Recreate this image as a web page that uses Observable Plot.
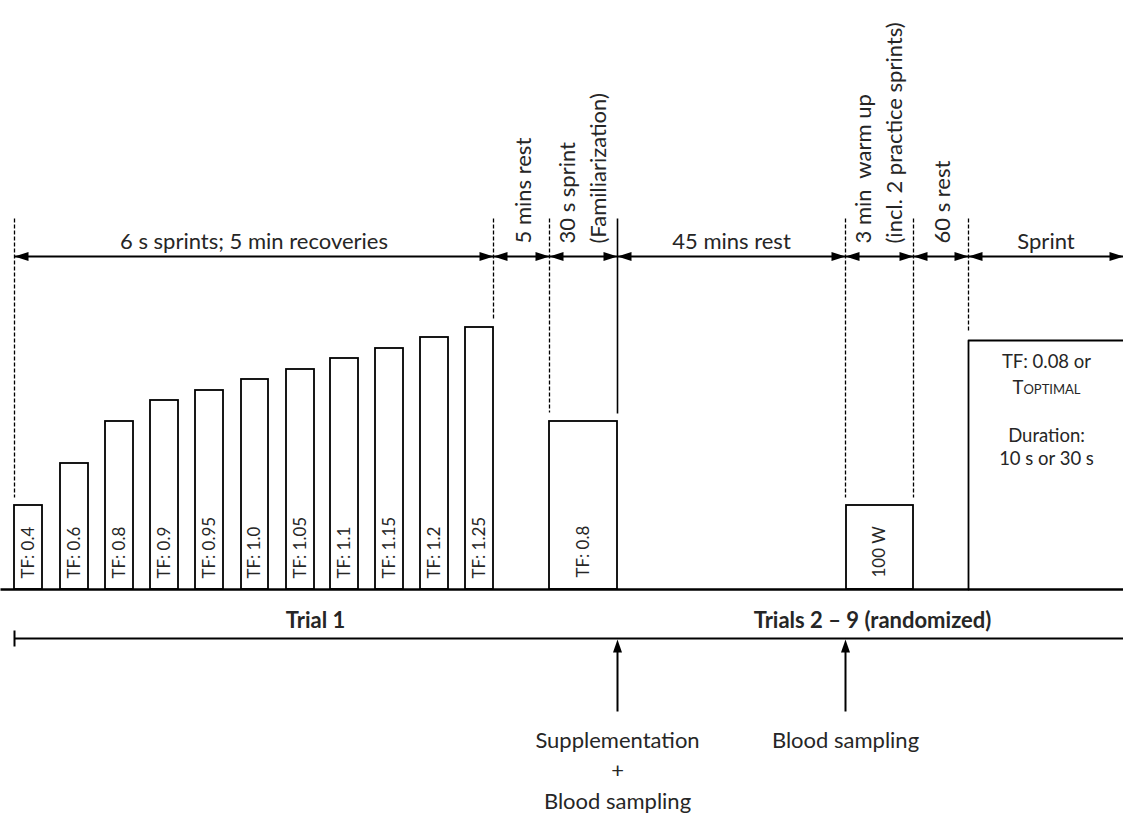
<!DOCTYPE html>
<html><head><meta charset="utf-8">
<script src="https://cdn.jsdelivr.net/npm/d3@7"></script>
<script src="https://cdn.jsdelivr.net/npm/@observablehq/plot@0.6"></script>
<style>
html,body{margin:0;padding:0;background:#fff;}
svg{display:block;}
</style>
</head><body><div id="chart"></div>
<script>
// ---- Data (schematic units: x = timeline position, level = height above baseline) ----
const tfLabels = ["TF: 0.4","TF: 0.6","TF: 0.8","TF: 0.9","TF: 0.95","TF: 1.0","TF: 1.05","TF: 1.1","TF: 1.15","TF: 1.2","TF: 1.25"];
const tfLevels = [84,126,168,189,199,210,220,231,241,252,262];
const tfStart  = [14,60,105,150,195,241,286,330,375,420,465];
const tfEnd    = [42,88,133,178,223,268,314,358,403,448,493];

const phaseBounds = [14,493,549,617,845,913,968,1123];
const phaseLabels = ["6 s sprints; 5 min recoveries","5 mins rest","30 s sprint\n(Familiarization)","45 mins rest","3 min  warm up\n(incl. 2 practice sprints)","60 s rest","Sprint"];

const markerX      = [14,493,549,617,845,913,968];
const markerBottom = [92,269,177,176,92,92,259];
const markerKind   = ["dashed","dashed","dashed","solid","dashed","dashed","dashed"];

const blockLabels = ["TF: 0.8","100 W"];
const blockStart  = [549,846];
const blockEnd    = [617,913];
const blockLevels = [168,84];

const sprintStart = 968;
const sprintLevel = 249;
const sprintLines = ["TF: 0.08 or","Toptimal","Duration:","10 s or 30 s"];
const sprintLineLevels = [222,196,148,125];

const trialLabels  = ["Trial 1","Trials 2 – 9 (randomized)"];
const trialCenters = [315,872];

const eventX      = [617,845];
const eventLabels = ["Supplementation\n+\nBlood sampling","Blood sampling"];

// ---- Layout constants ----
const W = 1123, H = 817;
const arrowLevel = 333;      // level of the phase arrows
const markerTop = 371;
const trialLevel = -49;
const FONT = "Lato, 'Open Sans', sans-serif";
const INK = "#262626";

// arrowhead symbols (tip at the point)
const headRight = {draw(c){c.moveTo(0,0);c.lineTo(-14,-4.5);c.lineTo(-14,4.5);c.closePath();}};
const headLeft  = {draw(c){c.moveTo(0,0);c.lineTo(14,-4.5);c.lineTo(14,4.5);c.closePath();}};
const headUp    = {draw(c){c.moveTo(0,0);c.lineTo(-4.5,13);c.lineTo(4.5,13);c.closePath();}};

const bars = tfLabels.map((label,i)=>({label, x1:tfStart[i], x2:tfEnd[i], level:tfLevels[i]}));
const blocks = blockLabels.map((label,i)=>({label, x1:blockStart[i], x2:blockEnd[i], level:blockLevels[i]}));
const phases = phaseLabels.map((label,i)=>({label, x1:phaseBounds[i], x2:phaseBounds[i+1], mid:(phaseBounds[i]+phaseBounds[i+1])/2}));
const horizPhases = phases.filter(p => p.x2 - p.x1 > 100);
const vertPhases = phases.filter(p => p.x2 - p.x1 <= 100);
const markers = markerX.map((x,i)=>({x, bottom:markerBottom[i], kind:markerKind[i]}));
const sprintText = sprintLines.map((t,i)=>({t, level:sprintLineLevels[i]}));
const trials = trialLabels.map((t,i)=>({t, x:trialCenters[i]}));
const events = eventX.map((x,i)=>({x, label:eventLabels[i]}));

const chart = Plot.plot({
  width: W, height: H,
  margin: 0,
  x: {domain:[0,W], range:[0,W], axis:null},
  y: {domain:[-228,589], range:[H,0], axis:null},
  style: {fontFamily: FONT, background:"#fff", color: INK},
  marks: [
    // vertical boundary markers
    Plot.link(markers.filter(m=>m.kind==="dashed"), {x1:"x", x2:"x", y1:markerTop, y2:"bottom", stroke:"#000", strokeWidth:1.3, strokeDasharray:"4,2"}),
    Plot.link(markers.filter(m=>m.kind==="solid"), {x1:"x", x2:"x", y1:markerTop, y2:"bottom", stroke:"#000", strokeWidth:1.6}),
    // phase arrows
    Plot.link(phases, {x1:"x1", x2:"x2", y1:arrowLevel, y2:arrowLevel, stroke:"#000", strokeWidth:2}),
    Plot.dot(phases, {x:"x1", y:arrowLevel, symbol:headLeft, fill:"#000", stroke:null}),
    Plot.dot(phases, {x:"x2", y:arrowLevel, symbol:headRight, fill:"#000", stroke:null}),
    Plot.text(horizPhases, {x:"mid", y:341, text:"label", fontSize:22, lineAnchor:"bottom", fill:INK}),
    Plot.text(vertPhases.filter(p=>!p.label.includes("\n")), {x:d=>d.x2 - 19, y:346, text:"label", rotate:-90, textAnchor:"start", lineAnchor:"bottom", fontSize:22, fill:INK}),
    Plot.text(vertPhases.filter(p=>p.label.includes("\n")), {x:d=>d.x2 - 12, y:346, text:"label", rotate:-90, textAnchor:"start", lineAnchor:"bottom", lineHeight:1.39, fontSize:22, fill:INK}),
    // TF bars
    Plot.rect(bars, {x1:"x1", x2:"x2", y1:0, y2:"level", fill:"#fff", stroke:"#000", strokeWidth:1.8}),
    Plot.text(bars, {x:d=>(d.x1+d.x2)/2, y:11, text:"label", rotate:-90, textAnchor:"start", lineAnchor:"middle", fontSize:17, fill:INK}),
    // familiarization & warm-up blocks
    Plot.rect(blocks, {x1:"x1", x2:"x2", y1:0, y2:"level", fill:"#fff", stroke:"#000", strokeWidth:1.8}),
    Plot.text(blocks, {x:d=>(d.x1+d.x2)/2, y:12, text:"label", rotate:-90, textAnchor:"start", lineAnchor:"middle", fontSize:17, fill:INK}),
    // sprint block (open to the right)
    Plot.line([{x:sprintStart,l:0},{x:sprintStart,l:sprintLevel},{x:W+5,l:sprintLevel}], {x:"x", y:"l", stroke:"#000", strokeWidth:1.8}),
    Plot.text(sprintText.filter(d=>d.t!=="Toptimal"), {x:1046, y:"level", text:"t", lineAnchor:"bottom", fontSize:18.5, fill:INK}),
    Plot.text(sprintText.filter(d=>d.t==="Toptimal"), {x:1046, y:"level", text:"t", lineAnchor:"bottom", fontSize:18.5, fontVariant:"small-caps", fill:INK}),
    // baseline
    Plot.link([0], {x1:0, x2:W, y1:0, y2:0, stroke:"#000", strokeWidth:2.5}),
    // trial timeline
    Plot.link([0], {x1:14, x2:W, y1:trialLevel, y2:trialLevel, stroke:"#000", strokeWidth:2}),
    Plot.link([0], {x1:14, x2:14, y1:trialLevel+8, y2:trialLevel-8, stroke:"#000", strokeWidth:2}),
    Plot.text(trials, {x:"x", y:-38, text:"t", fontSize:22, fontWeight:"bold", lineAnchor:"bottom", fill:INK}),
    // event arrows
    Plot.link(events, {x1:"x", x2:"x", y1:-122, y2:trialLevel-6, stroke:"#000", strokeWidth:2}),
    Plot.dot(events, {x:"x", y:trialLevel-1, symbol:headUp, fill:"#000", stroke:null}),
    Plot.text(events, {x:"x", y:d=>d.label.includes("\n") ? -219 : -158, text:"label", fontSize:22, lineAnchor:"bottom", lineHeight:1.386, fill:INK})
  ]
});
document.getElementById("chart").append(chart);
</script>
</body></html>
